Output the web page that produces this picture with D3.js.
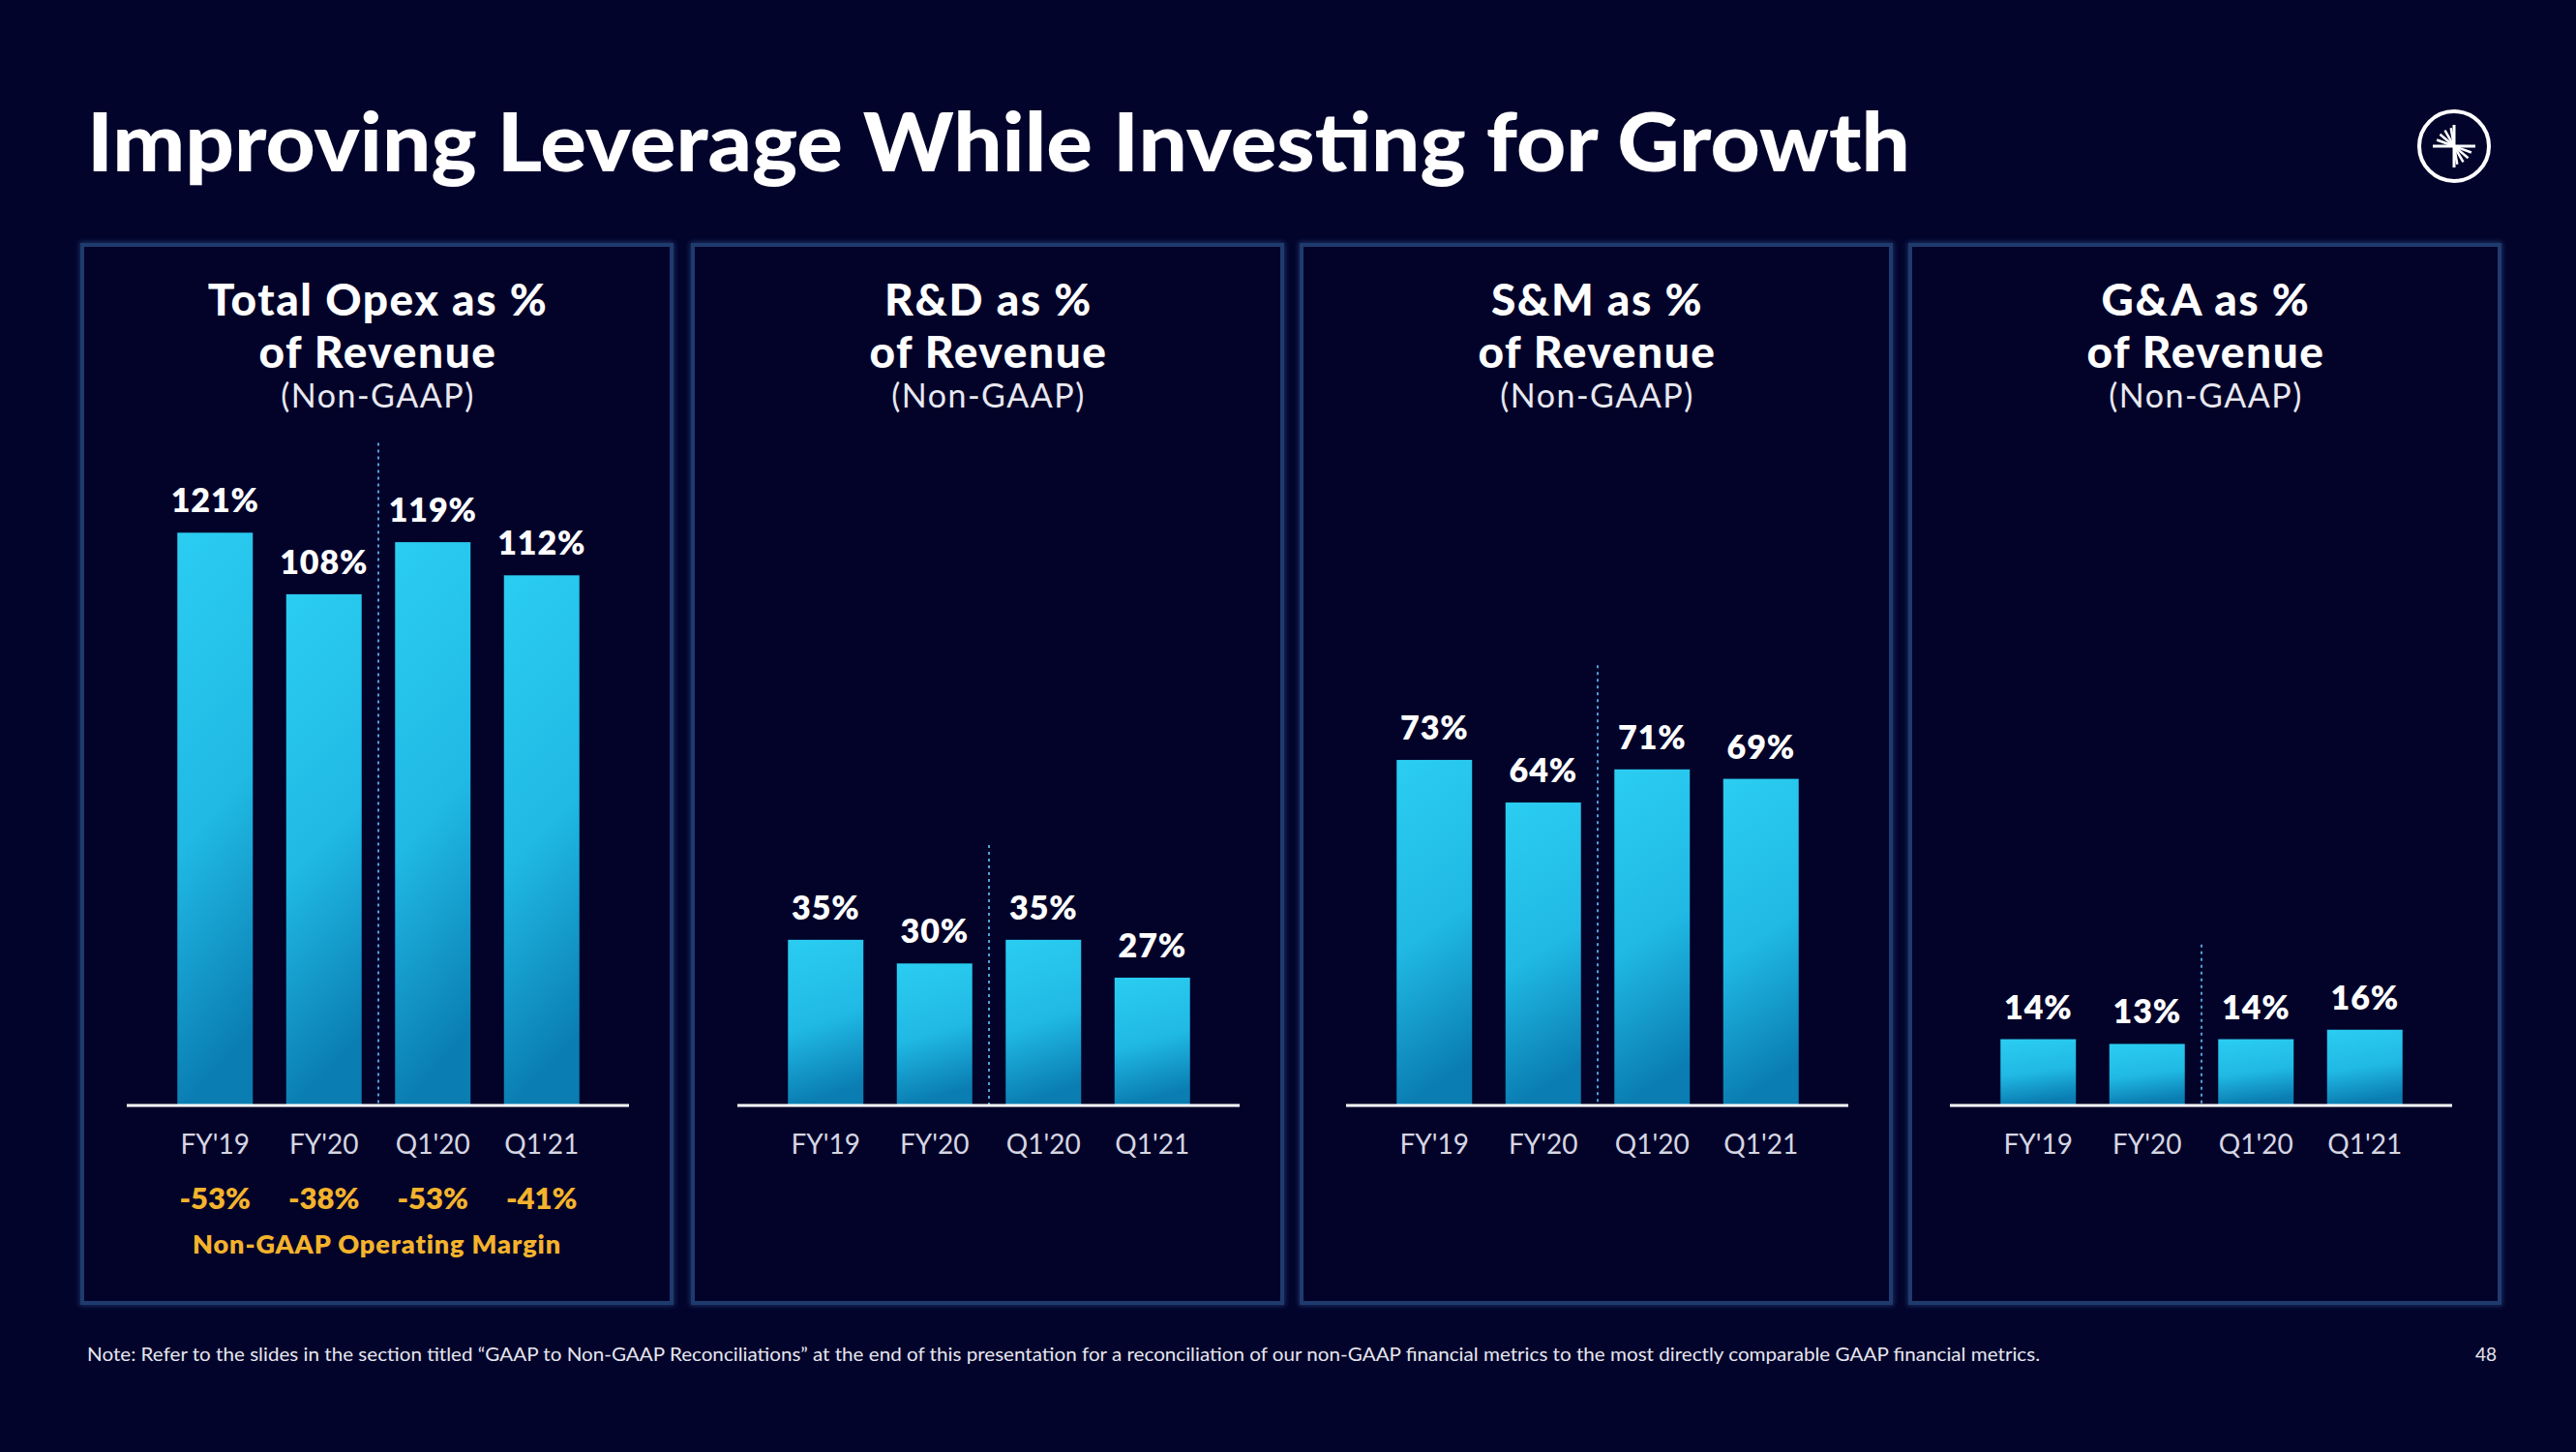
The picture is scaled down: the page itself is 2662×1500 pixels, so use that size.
<!DOCTYPE html>
<html><head><meta charset="utf-8">
<script src="https://cdn.jsdelivr.net/npm/d3@7"></script>
<style>
html,body{margin:0;padding:0;background:#03042c;}
svg{display:block;}
</style></head>
<body>
<svg id="chart" width="2662" height="1500"></svg>
<script>
// ---------- data ----------
const categories = ["FY'19", "FY'20", "Q1'20", "Q1'21"];
const panelTitles = [
  ["Total Opex as %", "of Revenue"],
  ["R&D as %", "of Revenue"],
  ["S&M as %", "of Revenue"],
  ["G&A as %", "of Revenue"]
];
const panelSubtitle = "(Non-GAAP)";
const opexValues = [121, 108, 119, 112];
const rdValues = [35, 30, 35, 27];
const smValues = [73, 64, 71, 69];
const gaValues = [14, 13, 14, 16];
const marginValues = [-53, -38, -53, -41];
const marginLabel = "Non-GAAP Operating Margin";
const titleText = "Improving Leverage While Investing for Growth";
const noteText = "Note: Refer to the slides in the section titled \u201cGAAP to Non-GAAP Reconciliations\u201d at the end of this presentation for a reconciliation of our non-GAAP financial metrics to the most directly comparable GAAP financial metrics.";
const pageNumber = "48";

// ---------- layout ----------
const seriesList = [opexValues, rdValues, smValues, gaValues];
const layout = {
  panelLeft: [85, 716, 1345, 1974],
  panelTop: 253, panelW: 609, panelH: 1093,
  axisY: 1142, pxPerUnit: 4.89,
  dividerTop: [140, 55, 93, 34]   // in value units
};
const FONT = "Lato, 'Open Sans', sans-serif";

const svg = d3.select("#chart");
svg.append("rect").attr("width", 2662).attr("height", 1500).attr("fill", "#03042c");

const defs = svg.append("defs");
const grad = defs.append("linearGradient").attr("id", "barGrad")
  .attr("x1", 0).attr("y1", 0).attr("x2", 0.15).attr("y2", 1);
grad.append("stop").attr("offset", "0%").attr("stop-color", "#2bcdf1");
grad.append("stop").attr("offset", "55%").attr("stop-color", "#20b9e4");
grad.append("stop").attr("offset", "100%").attr("stop-color", "#0a7db2");

const glow = defs.append("filter").attr("id", "glow").attr("x", "-5%").attr("y", "-5%").attr("width", "110%").attr("height", "110%");
glow.append("feGaussianBlur").attr("stdDeviation", 2.5);

// title
svg.append("text").attr("x", 90).attr("y", 177)
  .attr("font-family", FONT).attr("font-weight", 900).attr("font-size", 84)
  .attr("fill", "#ffffff").attr("textLength", 1884).attr("lengthAdjust", "spacingAndGlyphs")
  .text(titleText);

// logo
const logo = svg.append("g").attr("transform", "translate(2536,151)");
logo.append("circle").attr("r", 36).attr("fill", "none").attr("stroke", "#ffffff").attr("stroke-width", 4);
logo.append("line").attr("x1", -22).attr("x2", 22).attr("y1", 0).attr("y2", 0).attr("stroke", "#fff").attr("stroke-width", 3);
logo.append("line").attr("x1", 0).attr("x2", 0).attr("y1", -22).attr("y2", 22).attr("stroke", "#fff").attr("stroke-width", 3);
[100, 120, 140, 160].forEach(a => {
  const r = a * Math.PI / 180;
  logo.append("line").attr("x1", 0).attr("y1", 0)
    .attr("x2", 19 * Math.cos(r)).attr("y2", -19 * Math.sin(r)).attr("stroke", "#fff").attr("stroke-width", 2.5);
  const r2 = (a + 180) * Math.PI / 180;
  logo.append("line").attr("x1", 0).attr("y1", 0)
    .attr("x2", 19 * Math.cos(r2)).attr("y2", -19 * Math.sin(r2)).attr("stroke", "#fff").attr("stroke-width", 2.5);
});

// panels
seriesList.forEach((values, i) => {
  const L = layout.panelLeft[i];
  const g = svg.append("g");
  // border with glow
  g.append("rect").attr("x", L).attr("y", layout.panelTop).attr("width", layout.panelW).attr("height", layout.panelH)
    .attr("fill", "none").attr("stroke", "#2a4d85").attr("stroke-width", 6).attr("opacity", 0.6).attr("filter", "url(#glow)");
  g.append("rect").attr("x", L).attr("y", layout.panelTop).attr("width", layout.panelW).attr("height", layout.panelH)
    .attr("fill", "#03032a").attr("stroke", "#1f3b6e").attr("stroke-width", 4);

  const cx = L + layout.panelW / 2;
  const shift = i === 3 ? -5 : 0;
  g.append("text").attr("x", cx + 1).attr("y", 326).attr("text-anchor", "middle")
    .attr("font-family", FONT).attr("font-weight", 900).attr("font-size", 46).attr("fill", "#fff")
    .attr("letter-spacing", 1.6)
    .text(panelTitles[i][0]);
  g.append("text").attr("x", cx + 1).attr("y", 380).attr("text-anchor", "middle")
    .attr("font-family", FONT).attr("font-weight", 900).attr("font-size", 46).attr("fill", "#fff")
    .attr("letter-spacing", 1.6)
    .text(panelTitles[i][1]);
  g.append("text").attr("x", cx + 1).attr("y", 421).attr("text-anchor", "middle")
    .attr("font-family", FONT).attr("font-weight", 400).attr("font-size", 34).attr("fill", "#e8e8f0")
    .attr("letter-spacing", 1.5)
    .text(panelSubtitle);

  const x = d3.scaleBand().domain(categories)
    .range([L + 81 + shift, L + 531 + shift]).paddingInner(0.307).paddingOuter(0.1535);
  const y = d3.scaleLinear().domain([0, 100]).range([layout.axisY, layout.axisY - 100 * layout.pxPerUnit]);

  // divider
  const divX = x(categories[1]) + x.bandwidth() + (x.step() - x.bandwidth()) / 2;
  g.append("line").attr("x1", divX).attr("x2", divX)
    .attr("y1", y(layout.dividerTop[i])).attr("y2", layout.axisY)
    .attr("stroke", "#4f9fd4").attr("stroke-width", 2).attr("stroke-dasharray", "3,4");

  // bars
  g.selectAll("rect.bar").data(values).join("rect").attr("class", "bar")
    .attr("x", (d, j) => x(categories[j])).attr("width", x.bandwidth())
    .attr("y", d => y(d)).attr("height", d => layout.axisY - y(d))
    .attr("fill", "url(#barGrad)");

  // value labels
  g.selectAll("text.val").data(values).join("text").attr("class", "val")
    .attr("x", (d, j) => x(categories[j]) + x.bandwidth() / 2)
    .attr("y", d => y(d) - 21).attr("text-anchor", "middle")
    .attr("font-family", FONT).attr("font-weight", 800).attr("font-size", 34).attr("fill", "#fff")
    .attr("letter-spacing", 0.8)
    .text(d => d + "%");

  // axis
  const axis = d3.axisBottom(x).tickSize(0).tickPadding(0);
  const ag = g.append("g").attr("transform", `translate(0,${layout.axisY})`).call(axis);
  ag.select(".domain").remove();
  ag.append("line").attr("x1", L + 46 + shift).attr("x2", L + 565 + shift).attr("y1", 0).attr("y2", 0)
    .attr("stroke", "#ffffff").attr("stroke-width", 3);
  ag.selectAll(".tick text").attr("y", 50).attr("dy", 0)
    .attr("font-family", FONT).attr("font-size", 28).attr("fill", "#d6d6e2");

  if (i === 0) {
    g.selectAll("text.margin").data(marginValues).join("text").attr("class", "margin")
      .attr("x", (d, j) => x(categories[j]) + x.bandwidth() / 2).attr("y", 1249)
      .attr("text-anchor", "middle").attr("font-family", FONT).attr("font-weight", 800)
      .attr("font-size", 31).attr("fill", "#f4b32c").text(d => d + "%");
    g.append("text").attr("x", cx).attr("y", 1295).attr("text-anchor", "middle")
      .attr("font-family", FONT).attr("font-weight", 800).attr("font-size", 27).attr("fill", "#f4b32c")
      .attr("letter-spacing", 0.9)
      .text(marginLabel);
  }
});

// footnote
svg.append("text").attr("x", 90).attr("y", 1406)
  .attr("font-family", FONT).attr("font-size", 19).attr("fill", "#e6e6ee")
  .attr("textLength", 2018).attr("lengthAdjust", "spacingAndGlyphs").text(noteText);
svg.append("text").attr("x", 2580).attr("y", 1406).attr("text-anchor", "end")
  .attr("font-family", FONT).attr("font-size", 19).attr("fill", "#e6e6ee").text(pageNumber);
</script>
</body></html>
